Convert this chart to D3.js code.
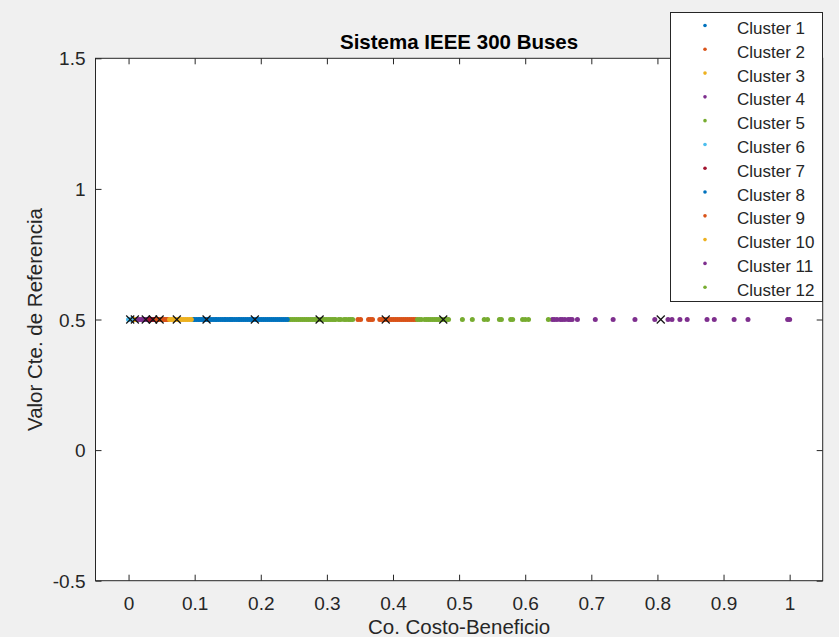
<!DOCTYPE html>
<html>
<head>
<meta charset="utf-8">
<script src="https://cdn.jsdelivr.net/npm/d3@7/dist/d3.min.js"></script>
<style>
  html, body { margin: 0; padding: 0; background: #f0f0f0; }
  svg { display: block; font-family: "Liberation Sans", Arial, Helvetica, sans-serif; }
</style>
</head>
<body>
<svg id="chart" width="839" height="637"></svg>
<script>
// ---------------- DATA ----------------
const clusterNames = ["Cluster 1","Cluster 2","Cluster 3","Cluster 4","Cluster 5","Cluster 6",
                      "Cluster 7","Cluster 8","Cluster 9","Cluster 10","Cluster 11","Cluster 12"];
const clusterColors = ["#0072BD","#D95319","#EDB120","#7E2F8E","#77AC30","#4DBEEE",
                       "#A2142F","#0072BD","#D95319","#EDB120","#7E2F8E","#77AC30"];
const refValue = 0.5;

const cluster1 = [0.098,0.100,0.103,0.106,0.108,0.111,0.114,0.117,0.119,0.122,0.125,0.128,0.131,0.133,0.136,0.139,0.142,0.145,0.147,0.150,0.153,0.155];
const cluster2 = [0.347,0.351,0.363,0.366,0.369,0.380,0.383,0.386,0.389,0.392,0.395,0.398,0.401,0.404,0.407,0.410,0.413,0.416,0.419,0.422,0.425,0.428,0.431,0.434];
const cluster3 = [0.005,0.006,0.007,0.008,0.009,0.010,0.011,0.012];
const cluster4 = [0.014,0.017,0.020,0.023,0.025,0.026,0.027,0.028,0.029,0.030,0.031];
const cluster5 = [0.242,0.245,0.248,0.251,0.254,0.257,0.260,0.263,0.266,0.269,0.272,0.275,0.278,0.281,0.284,0.287,0.290,0.293,0.296,0.299,0.302,0.305,0.308,0.311,0.313,0.318,0.321,0.326,0.329,0.333,0.336,0.339];
const cluster6 = [0.000,0.001,0.0015,0.002,0.003,0.004];
const cluster7 = [0.032,0.033,0.034,0.035,0.036,0.037,0.038,0.039,0.040,0.041,0.042];
const cluster8 = [0.157,0.160,0.163,0.166,0.168,0.171,0.174,0.177,0.180,0.183,0.186,0.189,0.192,0.195,0.198,0.201,0.204,0.207,0.210,0.213,0.216,0.219,0.222,0.225,0.228,0.231,0.234,0.237,0.240];
const cluster9 = [0.043,0.044,0.045,0.046,0.047,0.048,0.050,0.052,0.054,0.056,0.058,0.060];
const cluster10 = [0.062,0.065,0.068,0.071,0.074,0.077,0.080,0.083,0.086,0.089,0.092,0.095];
const cluster11 = [0.641,0.644,0.648,0.653,0.656,0.660,0.665,0.668,0.671,0.679,0.706,0.733,0.766,0.796,0.816,0.822,0.834,0.845,0.875,0.886,0.916,0.937,0.997,1.000];
const cluster12 = [0.437,0.440,0.443,0.448,0.451,0.454,0.457,0.460,0.463,0.466,0.469,0.472,0.475,0.478,0.481,0.484,0.505,0.520,0.538,0.543,0.561,0.564,0.578,0.581,0.596,0.600,0.605,0.635];
const clusterValues = [cluster1,cluster2,cluster3,cluster4,cluster5,cluster6,cluster7,cluster8,cluster9,cluster10,cluster11,cluster12];

// centroids (black x markers)
const centroids = [0.118,0.389,0.0095,0.026,0.289,0.0025,0.037,0.191,0.047,0.073,0.805,0.476];

const xTicks = [0,0.1,0.2,0.3,0.4,0.5,0.6,0.7,0.8,0.9,1];
const yTicks = [-0.5,0,0.5,1,1.5];
const xTickLabels = ["0","0.1","0.2","0.3","0.4","0.5","0.6","0.7","0.8","0.9","1"];
const yTickLabels = ["-0.5","0","0.5","1","1.5"];
const titleText = "Sistema IEEE 300 Buses";
const xLabelText = "Co. Costo-Beneficio";
const yLabelText = "Valor Cte. de Referencia";

// ---------------- LAYOUT ----------------
const svg = d3.select("#chart");
const L = 95.5, R = 822.7, T = 58.3, B = 580.7;
const x = d3.scaleLinear().domain([-0.05, 1.05]).range([L, R]);
const y = d3.scaleLinear().domain([-0.5, 1.5]).range([B, T]);
const axisColor = "#262626";
const tickLen = 6;

svg.append("rect").attr("width", 839).attr("height", 637).attr("fill", "#f0f0f0");
svg.append("rect").attr("x", L).attr("y", T).attr("width", R - L).attr("height", B - T).attr("fill", "#fff");

const gx = svg.append("g").attr("transform", `translate(0,${B})`)
  .call(d3.axisBottom(x).tickValues(xTicks).tickSizeInner(-tickLen).tickSizeOuter(0)
    .tickFormat((d, i) => xTickLabels[i]));
const gxTop = svg.append("g").attr("transform", `translate(0,${T})`)
  .call(d3.axisTop(x).tickValues(xTicks).tickSizeInner(-tickLen).tickSizeOuter(0).tickFormat(""));
const gy = svg.append("g").attr("transform", `translate(${L},0)`)
  .call(d3.axisLeft(y).tickValues(yTicks).tickSizeInner(-tickLen).tickSizeOuter(0)
    .tickFormat((d, i) => yTickLabels[i]));
const gyR = svg.append("g").attr("transform", `translate(${R},0)`)
  .call(d3.axisRight(y).tickValues(yTicks).tickSizeInner(-tickLen).tickSizeOuter(0).tickFormat(""));

[gx, gxTop, gy, gyR].forEach(g => {
  g.select(".domain").remove();
  g.selectAll(".tick line").attr("stroke", axisColor).attr("stroke-width", 1);
  g.selectAll(".tick text").attr("fill", axisColor).attr("font-size", 19)
    .attr("font-family", "'Liberation Sans', Arial, sans-serif");
});
gx.selectAll(".tick text").attr("dy", null).attr("y", 29);
gy.selectAll(".tick text").attr("x", -10).attr("dy", "0.35em");

// border box
svg.append("rect").attr("x", L).attr("y", T).attr("width", R - L).attr("height", B - T)
  .attr("fill", "none").attr("stroke", axisColor).attr("stroke-width", 1);

// scatter points
const pts = svg.append("g");
clusterValues.forEach((vals, i) => {
  pts.append("g").selectAll("circle").data(vals).join("circle")
    .attr("cx", d => x(d)).attr("cy", y(refValue)).attr("r", 2.5)
    .attr("fill", clusterColors[i]);
});

// centroids
const cg = svg.append("g").attr("stroke", "#111").attr("stroke-width", 1.2);
const s = 4;
centroids.forEach(c => {
  const cx = x(c), cy = y(refValue);
  cg.append("line").attr("x1", cx - s).attr("y1", cy - s).attr("x2", cx + s).attr("y2", cy + s);
  cg.append("line").attr("x1", cx - s).attr("y1", cy + s).attr("x2", cx + s).attr("y2", cy - s);
});

// title & labels
svg.append("text").attr("x", (L + R) / 2).attr("y", 49).attr("text-anchor", "middle")
  .attr("font-size", 20.5).attr("font-weight", "bold").attr("fill", "#000").text(titleText);
svg.append("text").attr("x", (L + R) / 2).attr("y", 634).attr("text-anchor", "middle")
  .attr("font-size", 20.5).attr("fill", axisColor).text(xLabelText);
svg.append("text").attr("transform", `translate(42,${(T + B) / 2}) rotate(-90)`).attr("text-anchor", "middle")
  .attr("font-size", 20.5).attr("fill", axisColor).text(yLabelText);

// legend
const lg = svg.append("g");
lg.append("rect").attr("x", 670.5).attr("y", 12.5).attr("width", 152).attr("height", 289)
  .attr("fill", "#fff").attr("stroke", axisColor).attr("stroke-width", 1);
const rowY = d3.scaleLinear().domain([0, 11]).range([34, 295.7]);
clusterNames.forEach((name, i) => {
  const by = rowY(i);
  lg.append("circle").attr("cx", 705).attr("cy", by - 8.5).attr("r", 1.8).attr("fill", clusterColors[i]);
  lg.append("text").attr("x", 737).attr("y", by).attr("font-size", 17).attr("fill", axisColor).text(name);
});
</script>
</body>
</html>
